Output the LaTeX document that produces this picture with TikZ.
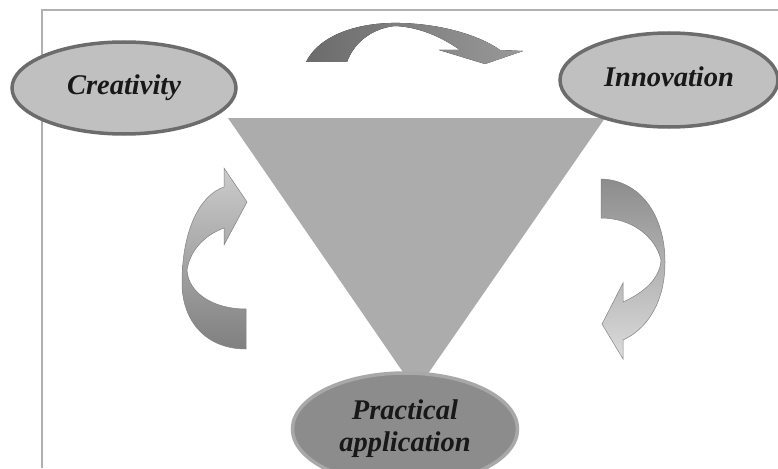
\documentclass[tikz,border=0pt]{standalone}
\usepackage{fontspec}
\setmainfont{Liberation Serif}
\usetikzlibrary{shapes.geometric}
\definecolor{ovalfill}{RGB}{192,192,192}
\definecolor{ovalline}{RGB}{108,108,108}
\definecolor{basefill}{RGB}{140,140,140}
\definecolor{baseline}{RGB}{168,168,168}
\definecolor{funnel}{RGB}{172,172,172}
\definecolor{frameline}{RGB}{176,176,176}
\definecolor{arrowline}{RGB}{130,130,130}
\definecolor{textdark}{RGB}{24,24,24}

\begin{document}
\begin{tikzpicture}[x=1pt,y=-1pt,
    idea/.style={ellipse, draw=ovalline, line width=3.5pt, fill=ovalfill, inner sep=0pt,
      font=\fontsize{28.5}{32}\selectfont\bfseries\itshape, text=textdark, align=center},
    turn/.style={draw=arrowline, line width=0.5pt}]
  \clip (0,0) rectangle (778,468);
  \fill[white] (0,0) rectangle (778,468);
  \draw[frameline, line width=1.5pt] (42,468) -- (42,10) -- (778,10);

  \fill[funnel] (228,118) -- (605,118) -- (416,391) -- cycle;

  \node[idea, minimum width=224pt, minimum height=92pt] (creat) at (124,88) {\raisebox{7pt}{Creativity}};
  \node[idea, minimum width=218pt, minimum height=94pt] (innov) at (669,80) {\raisebox{7pt}{Innovation}};
  \node[idea, draw=baseline, fill=basefill, minimum width=225pt, minimum height=112pt] (pract) at (405,429)
    {\raisebox{5pt}{\begin{tabular}{@{}c@{}}Practical\\application\end{tabular}}};

  \fill[left color=black!58, right color=black!40]
    (306,62) .. controls (320,34) and (360,22) .. (400,23)
    .. controls (445,24) and (482,37) .. (500,50)
    -- (523,51) -- (485,64) -- (439,50) -- (460,50)
    .. controls (440,36) and (418,27) .. (395,26)
    .. controls (375,28) and (355,40) .. (347,62) -- cycle;

  \draw[turn, top color=black!20, bottom color=black!50]
    (246,349) .. controls (205,349) and (182,320) .. (182,283)
    .. controls (182,230) and (200,195) .. (224,187)
    -- (224,168) -- (247,202) -- (224,245) -- (224,228)
    .. controls (205,235) and (190,250) .. (187,270)
    .. controls (188,292) and (212,309) .. (246,309) -- cycle;

  \draw[turn, top color=black!45, bottom color=black!14]
    (601,179) .. controls (640,180) and (665,215) .. (665,262)
    .. controls (665,305) and (645,330) .. (623,340)
    -- (623,359) -- (602,324) -- (623,283) -- (623,302)
    .. controls (645,292) and (660,278) .. (661,260)
    .. controls (655,235) and (630,218) .. (601,218) -- cycle;
\end{tikzpicture}
\end{document}
